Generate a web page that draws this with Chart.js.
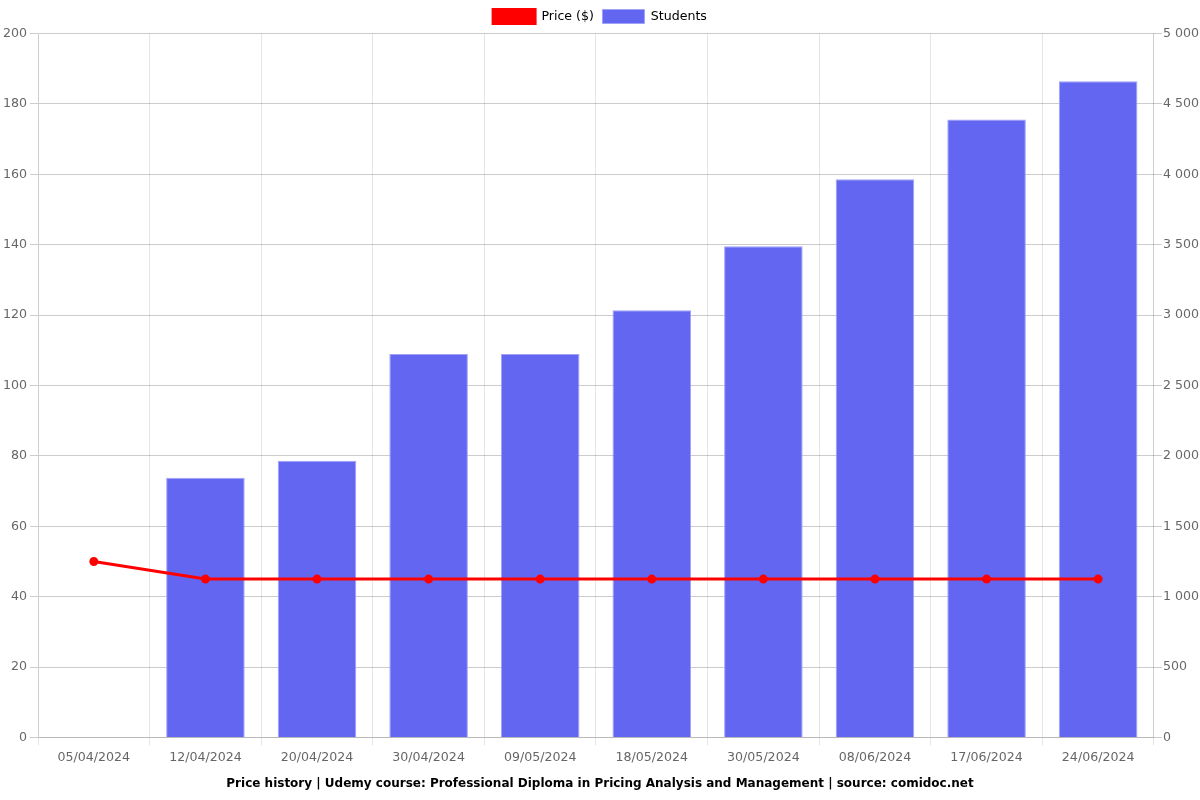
<!DOCTYPE html>
<html>
<head>
<meta charset="utf-8">
<script src="https://cdn.jsdelivr.net/npm/chart.js@4"></script>
<style>
  html, body { margin: 0; padding: 0; background: #fff; }
  #wrap { width: 1200px; height: 800px; }
</style>
</head>
<body>
<div id="wrap"><canvas id="mycanvas"></canvas></div>
<script>
var dates = ['05/04/2024', '12/04/2024', '20/04/2024', '30/04/2024', '09/05/2024',
             '18/05/2024', '30/05/2024', '08/06/2024', '17/06/2024', '24/06/2024'];
var price = [50, 45, 45, 45, 45, 45, 45, 45, 45, 45];
var students = [0, 1844, 1965, 2723, 2723, 3035, 3489, 3965, 4390, 4660];

Chart.defaults.font.family = 'DejaVu Sans';
Chart.defaults.font.size = 12;
Chart.defaults.color = '#666';

var chartdata = {
    labels: dates,
    datasets: [
        {
            type: 'line',
            label: 'Price ($)',
            data: price,
            yAxisID: 'y',
            borderColor: 'rgb(255, 0, 0)',
            backgroundColor: 'rgb(255, 0, 0)',
            borderWidth: 3,
            pointRadius: 3,
            tension: 0,
            order: 0
        },
        {
            type: 'bar',
            label: 'Students',
            data: students,
            yAxisID: 'y1',
            backgroundColor: 'rgba(99, 102, 241, 1)',
            borderColor: 'rgba(160, 162, 250, 1)',
            borderWidth: 1,
            categoryPercentage: 0.8,
            barPercentage: 0.88,
            order: 1
        }
    ]
};

var ctx = document.getElementById('mycanvas');

var tickFont = { size: 12.6 };

var graph = new Chart(ctx, {
    data: chartdata,
    options: {
        responsive: true,
        maintainAspectRatio: false,
        animation: false,
        layout: { padding: { left: 0, right: 0, top: 1, bottom: 5 } },
        plugins: {
            legend: {
                position: 'top',
                labels: { color: '#000', boxWidth: 42, boxHeight: 14, padding: 8.5, font: tickFont }
            },
            title: {
                display: true,
                position: 'bottom',
                text: 'Price history | Udemy course: Professional Diploma in Pricing Analysis and Management | source: comidoc.net',
                color: '#000',
                font: { weight: 'bold', size: 12 },
                padding: { top: 6, bottom: 4 }
            }
        },
        scales: {
            x: {
                grid: { color: 'rgba(0,0,0,0.1)', offset: true },
                ticks: { padding: 5, font: tickFont }
            },
            y: {
                position: 'left',
                min: 0,
                max: 200,
                ticks: { stepSize: 20, font: tickFont },
                grid: { color: 'rgba(0,0,0,0.2)' }
            },
            y1: {
                position: 'right',
                min: 0,
                max: 5000,
                ticks: {
                    stepSize: 500,
                    padding: 1,
                    font: tickFont,
                    callback: function (v) { return v.toLocaleString('fr-FR').replace(/\u202f|\u00a0/g, ' '); }
                },
                grid: { drawOnChartArea: false, color: 'rgba(0,0,0,0.2)' }
            }
        }
    }
});
</script>
</body>
</html>
